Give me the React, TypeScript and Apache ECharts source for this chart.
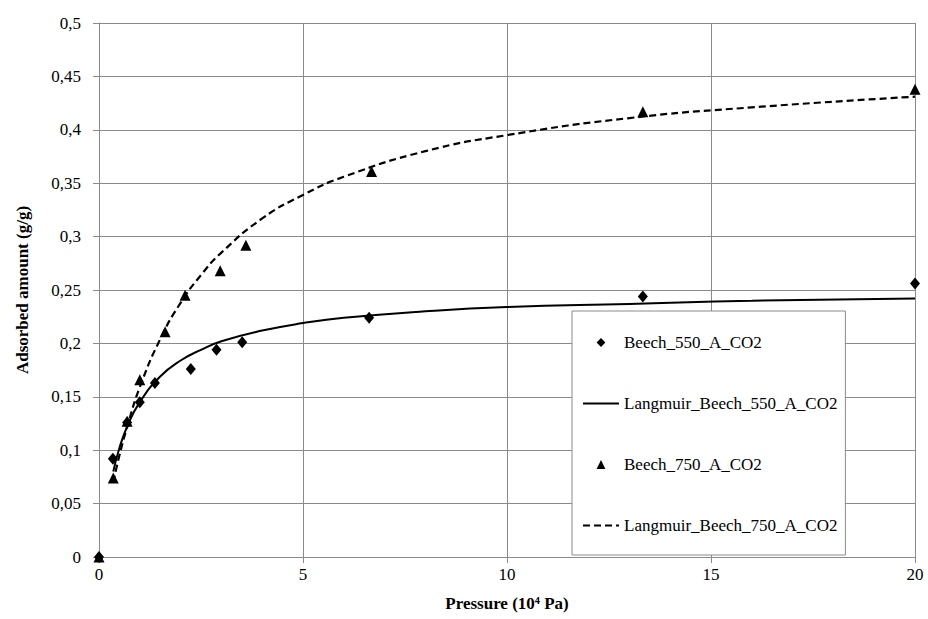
import React, { useEffect, useRef } from "react";
import * as echarts from "echarts";

// Measured points (pressure in 10^4 Pa, adsorbed amount g/g)
const beech550X = [0, 0.34, 0.69, 1.0, 1.37, 2.25, 2.88, 3.51, 6.62, 13.33, 20];
const beech550Y = [0, 0.092, 0.126, 0.145, 0.163, 0.176, 0.194, 0.201, 0.224, 0.244, 0.256];
const beech750X = [0, 0.35, 0.69, 1.0, 1.62, 2.11, 2.97, 3.6, 6.68, 13.33, 20];
const beech750Y = [0, 0.074, 0.127, 0.166, 0.211, 0.245, 0.268, 0.292, 0.361, 0.417, 0.438];

// Fitted curves
const curveX = [0.35, 0.5, 0.7, 1, 1.5, 2, 2.5, 3, 4, 5, 6, 8, 10, 13, 16, 20];
const langmuir550Y = [0.08, 0.102, 0.123, 0.145, 0.169, 0.184, 0.194, 0.202, 0.212, 0.219, 0.224, 0.23, 0.234, 0.237, 0.24, 0.242];
const langmuir750Y = [0.07, 0.095, 0.123, 0.159, 0.204, 0.238, 0.264, 0.285, 0.317, 0.339, 0.356, 0.38, 0.395, 0.411, 0.421, 0.431];

const xTicks = { min: 0, max: 20, interval: 5 };
const yTicks = { min: 0, max: 0.5, interval: 0.05 };

const names = [
  "Beech_550_A_CO2",
  "Langmuir_Beech_550_A_CO2",
  "Beech_750_A_CO2",
  "Langmuir_Beech_750_A_CO2",
];

const zip = (xs: number[], ys: number[]) => xs.map((x, i) => [x, ys[i]]);

const FONT = "Liberation Serif";
const GRID = "#8a8a8a";
const plain = { fontFamily: FONT, fontSize: 17, color: "#000" };
const bold = { fontFamily: FONT, fontSize: 17, fontWeight: "bold" as const, color: "#000" };

export default function App() {
  const ref = useRef<HTMLDivElement>(null);
  useEffect(() => {
    if (!ref.current) return;
    const chart = echarts.init(ref.current, undefined, { renderer: "svg" });
    const fmt = (v: number) => String(Number(v.toFixed(2))).replace(".", ",");
    chart.setOption({
      animation: false,
      textStyle: { fontFamily: FONT, fontSize: 17 },
      grid: { left: 99, right: 13, top: 23, bottom: 62 },
      xAxis: {
        type: "value",
        ...xTicks,
        name: "{t|Pressure (10⁴ Pa)}",
        nameLocation: "middle",
        nameGap: 38,
        nameTextStyle: { ...bold, rich: { t: bold } },
        axisLine: { show: true, lineStyle: { color: GRID, width: 1 } },
        axisTick: { show: true, length: 6, lineStyle: { color: GRID } },
        axisLabel: { ...plain, margin: 9, formatter: (v: number) => `{a|${fmt(v)}}`, rich: { a: plain } },
        splitLine: { show: true, lineStyle: { color: GRID, width: 1 } },
      },
      yAxis: {
        type: "value",
        ...yTicks,
        name: "{t|Adsorbed amount (g/g)}",
        nameLocation: "middle",
        nameGap: 68,
        nameTextStyle: { ...bold, rich: { t: bold } },
        axisLine: { show: true, lineStyle: { color: GRID, width: 1 } },
        axisTick: { show: true, length: 6, lineStyle: { color: GRID } },
        axisLabel: { ...plain, margin: 18, formatter: (v: number) => `{a|${fmt(v)}}`, rich: { a: plain } },
        splitLine: { show: true, lineStyle: { color: GRID, width: 1 } },
      },
      legend: {
        orient: "vertical",
        left: 572,
        top: 311,
        padding: [23, 8, 21, 10],
        itemGap: 44,
        itemWidth: 36,
        itemHeight: 11,
        backgroundColor: "#fff",
        borderColor: GRID,
        borderWidth: 1,
        borderRadius: 0,
        formatter: (n: string) => `{c|${n}}`,
        textStyle: { ...plain, rich: { c: { ...plain, lineHeight: 17 } } },
        data: [
          { name: names[0] },
          { name: names[1], itemStyle: { opacity: 0 } },
          { name: names[2] },
          { name: names[3], itemStyle: { opacity: 0 } },
        ],
      },
      series: [
        {
          name: names[1],
          type: "line",
          data: zip(curveX, langmuir550Y),
          smooth: true,
          symbol: "none",
          lineStyle: { color: "#000", width: 2, type: "solid" },
          itemStyle: { color: "#000" },
          z: 2,
        },
        {
          name: names[3],
          type: "line",
          data: zip(curveX, langmuir750Y),
          smooth: true,
          symbol: "none",
          lineStyle: { color: "#000", width: 2.2, type: [7, 4] },
          itemStyle: { color: "#000" },
          z: 2,
        },
        {
          name: names[0],
          type: "line",
          data: zip(beech550X, beech550Y),
          symbol: "diamond",
          symbolSize: [10, 12],
          showSymbol: true,
          lineStyle: { opacity: 0, width: 0 },
          itemStyle: { color: "#000" },
          z: 3,
        },
        {
          name: names[2],
          type: "line",
          data: zip(beech750X, beech750Y),
          symbol: "triangle",
          symbolSize: 11,
          showSymbol: true,
          lineStyle: { opacity: 0, width: 0 },
          itemStyle: { color: "#000" },
          z: 3,
        },
      ],
    });
    return () => chart.dispose();
  }, []);
  return (
    <div
      ref={ref}
      style={{ position: "fixed", left: 0, top: 0, width: 928, height: 619, background: "#fff" }}
    />
  );
}
